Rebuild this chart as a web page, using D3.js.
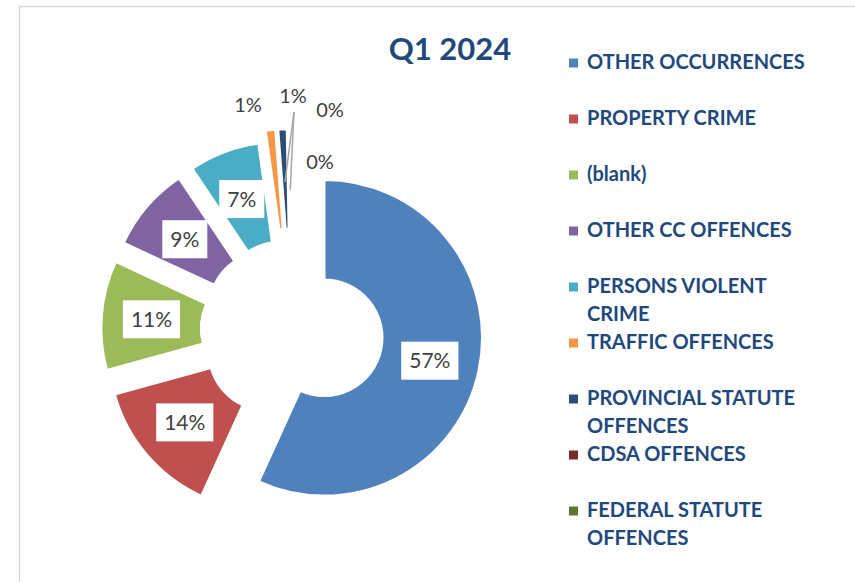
<!DOCTYPE html>
<html>
<head>
<meta charset="utf-8">
<script src="https://cdn.jsdelivr.net/npm/d3@7"></script>
<style>
  body { margin: 0; background: #fff; }
  svg { display: block; font-family: Lato, "Open Sans", sans-serif; }
</style>
</head>
<body>
<svg width="855" height="582"></svg>
<script>
const categories = [
  "OTHER OCCURRENCES", "PROPERTY CRIME", "(blank)", "OTHER CC OFFENCES",
  "PERSONS VIOLENT CRIME", "TRAFFIC OFFENCES", "PROVINCIAL STATUTE OFFENCES",
  "CDSA OFFENCES", "FEDERAL STATUTE OFFENCES"
];
const shares = [56.8, 13.9, 11.2, 8.7, 7.2, 1.0, 0.9, 0.2, 0.1];
const colors = ["#4F81BD", "#C0504D", "#9BBB59", "#8064A2", "#4BACC6",
                "#F79646", "#2C4D75", "#772C2A", "#5F7530"];
const title = "Q1 2024";

const svg = d3.select("svg");

// chart area border (only left and top edges show)
svg.append("path")
  .attr("d", "M19.5,582 V6.5 H855")
  .attr("fill", "none")
  .attr("stroke", "#D9D9D9")
  .attr("stroke-width", 1.5);

const cx = 292, cy = 330.8;
const outerR = 158, innerR = 58;

const pie = d3.pie().sort(null).value(d => d.value);
const arcs = pie(categories.map((c, i) => ({ name: c, value: shares[i], color: colors[i], i })));
const arc = d3.arc().innerRadius(innerR).outerRadius(outerR);

// exploded doughnut: each slice moved out along its mid angle
const explode = d => (d.data.value < 2 ? 44 : 33);
const mid = d => (d.startAngle + d.endAngle) / 2;
const sliceCenter = d => [cx + explode(d) * Math.sin(mid(d)), cy - explode(d) * Math.cos(mid(d))];
const pointOn = (d, a, r) => {
  const [x, y] = sliceCenter(d);
  return [x + r * Math.sin(a), y - r * Math.cos(a)];
};

const slices = svg.append("g").selectAll("g")
  .data(arcs)
  .join("g")
  .attr("transform", d => `translate(${sliceCenter(d)})`);

slices.append("path")
  .attr("d", arc)
  .attr("fill", d => d.data.color)
  .attr("stroke", "#fff")
  .attr("stroke-width", 2.5)
  .attr("stroke-linejoin", "miter");

const pct = v => Math.round(v) + "%";

// leader lines for the thin slices
const leaderFrom = [294, 112];
const leaders = [[arcs[6], 105], [arcs[7], 97]];
svg.append("g").selectAll("line")
  .data(leaders)
  .join("line")
  .attr("x1", leaderFrom[0])
  .attr("y1", leaderFrom[1])
  .attr("x2", d => pointOn(d[0], mid(d[0]), d[1])[0])
  .attr("y2", d => pointOn(d[0], mid(d[0]), d[1])[1])
  .attr("stroke", "#A6A6A6")
  .attr("stroke-width", 1.5);

// boxed labels in the big slices
const big = arcs.filter(d => d.data.value >= 2);
const lab = svg.append("g").selectAll("g")
  .data(big)
  .join("g")
  .attr("transform", d => `translate(${pointOn(d, mid(d), (innerR + outerR) / 2)})`);

lab.append("text")
  .attr("text-anchor", "middle")
  .attr("dy", "0.36em")
  .attr("fill", "#404040")
  .style("font-size", "21px")
  .text(d => pct(d.data.value))
  .each(function () {
    const b = this.getBBox();
    d3.select(this.parentNode).insert("rect", "text")
      .attr("x", b.x - 8)
      .attr("y", -19)
      .attr("width", b.width + 16)
      .attr("height", 38)
      .attr("fill", "#fff");
  });

// plain labels for the thin slices
const smallAt = { 5: [248, 105], 6: [293, 96], 7: [330, 110], 8: [320, 162] };
svg.append("g").selectAll("text")
  .data(arcs.filter(d => d.data.value < 2))
  .join("text")
  .attr("x", d => smallAt[d.data.i][0])
  .attr("y", d => smallAt[d.data.i][1])
  .attr("text-anchor", "middle")
  .attr("dy", "0.36em")
  .attr("fill", "#404040")
  .style("font-size", "20px")
  .text(d => pct(d.data.value));

// title
svg.append("text")
  .attr("x", 450)
  .attr("y", 60)
  .attr("text-anchor", "middle")
  .attr("fill", "#1F497D")
  .style("font-size", "31px")
  .style("font-weight", "bold")
  .text(title);

// legend
const legend = svg.append("g").attr("transform", "translate(569,0)");
const item = legend.selectAll("g")
  .data(categories)
  .join("g")
  .attr("transform", (d, i) => `translate(0,${62 + i * 56})`);

item.append("rect")
  .attr("y", -3.5)
  .attr("width", 9)
  .attr("height", 9)
  .attr("fill", (d, i) => colors[i]);

item.append("text")
  .attr("fill", "#1F497D")
  .style("font-size", "20px")
  .style("font-weight", "bold")
  .each(function (d) {
    const t = d3.select(this);
    const words = d.split(" ");
    let line = [];
    let ts = t.append("tspan").attr("x", 18).attr("dy", "0.36em");
    words.forEach(w => {
      line.push(w);
      ts.text(line.join(" "));
      if (ts.node().getComputedTextLength() > 232 && line.length > 1) {
        line.pop();
        ts.text(line.join(" "));
        line = [w];
        ts = t.append("tspan").attr("x", 18).attr("dy", 28).text(w);
      }
    });
  });
</script>
</body>
</html>
